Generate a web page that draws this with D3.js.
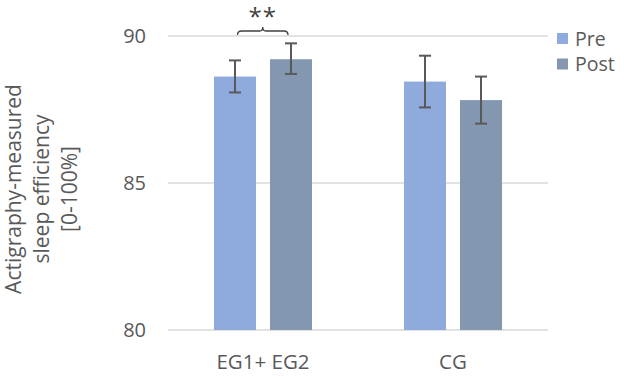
<!DOCTYPE html>
<html>
<head>
<meta charset="utf-8">
<script src="https://cdn.jsdelivr.net/npm/d3@7"></script>
<style>
  body { margin: 0; background: #fff; }
  text { font-family: "Open Sans", sans-serif; fill: #595959; }
</style>
</head>
<body>
<div id="chart"></div>
<script>
// data
const groups = ["EG1+ EG2", "CG"];
const series = ["Pre", "Post"];
const means = [[88.62, 89.21], [88.45, 87.82]];
const errLow = [[88.08, 88.71], [87.57, 87.02]];
const errHigh = [[89.17, 89.75], [89.33, 88.62]];
const yTicks = [80, 85, 90];
const colors = ["#8faadc", "#8497b0"];

const width = 624, height = 376;

const svg = d3.select("#chart")
  .append("svg")
  .attr("width", width)
  .attr("height", height);

// scales
var y = d3.scaleLinear().domain([80, 90]).range([330, 36]);
var x0 = d3.scaleBand().domain(groups).range([168, 548]);
var x1 = d3.scaleBand().domain(series).range([-49, 49]).paddingInner(0.25);

// gridlines
svg.append("g")
  .selectAll("line")
  .data(yTicks)
  .enter()
  .append("line")
  .attr("x1", 168)
  .attr("x2", 548)
  .attr("y1", d => y(d))
  .attr("y2", d => y(d))
  .attr("stroke", "#d9d9d9")
  .attr("stroke-width", 1.3);

// y tick labels
svg.append("g")
  .selectAll("text")
  .data(yTicks)
  .enter()
  .append("text")
  .attr("x", 146)
  .attr("y", d => y(d))
  .attr("dy", "0.36em")
  .attr("text-anchor", "end")
  .style("font-size", "20px")
  .text(d => d);

// bars
const rows = [];
groups.forEach((g, i) => {
  series.forEach((s, j) => {
    rows.push({ group: g, key: s, j: j, v: means[i][j], lo: errLow[i][j], hi: errHigh[i][j] });
  });
});

svg.append("g")
  .selectAll("rect")
  .data(rows)
  .enter()
  .append("rect")
  .attr("x", d => x0(d.group) + x0.bandwidth() / 2 + x1(d.key))
  .attr("width", x1.bandwidth())
  .attr("y", d => y(d.v))
  .attr("height", d => y(80) - y(d.v))
  .attr("fill", d => colors[d.j]);

// error bars
const eb = svg.append("g").attr("stroke", "#595959").attr("stroke-width", 2);
rows.forEach(d => {
  const cx = x0(d.group) + x0.bandwidth() / 2 + x1(d.key) + x1.bandwidth() / 2;
  eb.append("line").attr("x1", cx).attr("x2", cx).attr("y1", y(d.hi)).attr("y2", y(d.lo));
  eb.append("line").attr("x1", cx - 6).attr("x2", cx + 6).attr("y1", y(d.hi)).attr("y2", y(d.hi));
  eb.append("line").attr("x1", cx - 6).attr("x2", cx + 6).attr("y1", y(d.lo)).attr("y2", y(d.lo));
});

// category labels
svg.append("g")
  .selectAll("text")
  .data(groups)
  .enter()
  .append("text")
  .attr("x", d => x0(d) + x0.bandwidth() / 2)
  .attr("y", 369)
  .attr("text-anchor", "middle")
  .style("font-size", "20.5px")
  .text(d => d);

// significance bracket
var bx1 = x0(groups[0]) + x0.bandwidth() / 2 + x1("Pre") + x1.bandwidth() / 2 + 2.5;
var bx2 = x0(groups[0]) + x0.bandwidth() / 2 + x1("Post") + x1.bandwidth() / 2 - 3;
var bm = (bx1 + bx2) / 2;
svg.append("path")
  .attr("d", `M${bx1},35 Q${bx1},31 ${bx1 + 4},31 L${bm - 3},31 Q${bm},31 ${bm},27 Q${bm},31 ${bm + 3},31 L${bx2 - 4},31 Q${bx2},31 ${bx2},35`)
  .attr("fill", "none")
  .attr("stroke", "#404040")
  .attr("stroke-width", 1.3);

svg.append("text")
  .attr("x", bm)
  .attr("y", 25)
  .attr("text-anchor", "middle")
  .style("font-size", "24px")
  .style("letter-spacing", "1px")
  .style("fill", "#404040")
  .text("**");

// legend
const lg = svg.append("g").selectAll("g")
  .data(series)
  .enter()
  .append("g")
  .attr("transform", (d, i) => "translate(557," + (33 + i * 25.5) + ")");
lg.append("rect").attr("width", 11).attr("height", 11).attr("fill", (d, i) => colors[i]);
lg.append("text")
  .attr("x", 18)
  .attr("y", 5.5)
  .attr("dy", "0.36em")
  .style("font-size", "19.5px")
  .text(d => d);

// y axis title
const title = ["Actigraphy-measured", "sleep efficiency", "[0-100%]"];
svg.append("text")
  .attr("transform", "translate(21,189) rotate(-90)")
  .attr("text-anchor", "middle")
  .style("font-size", "21px")
  .selectAll("tspan")
  .data(title)
  .enter()
  .append("tspan")
  .attr("x", 0)
  .attr("dy", (d, i) => i === 0 ? 0 : 28)
  .text(d => d);
</script>
</body>
</html>
